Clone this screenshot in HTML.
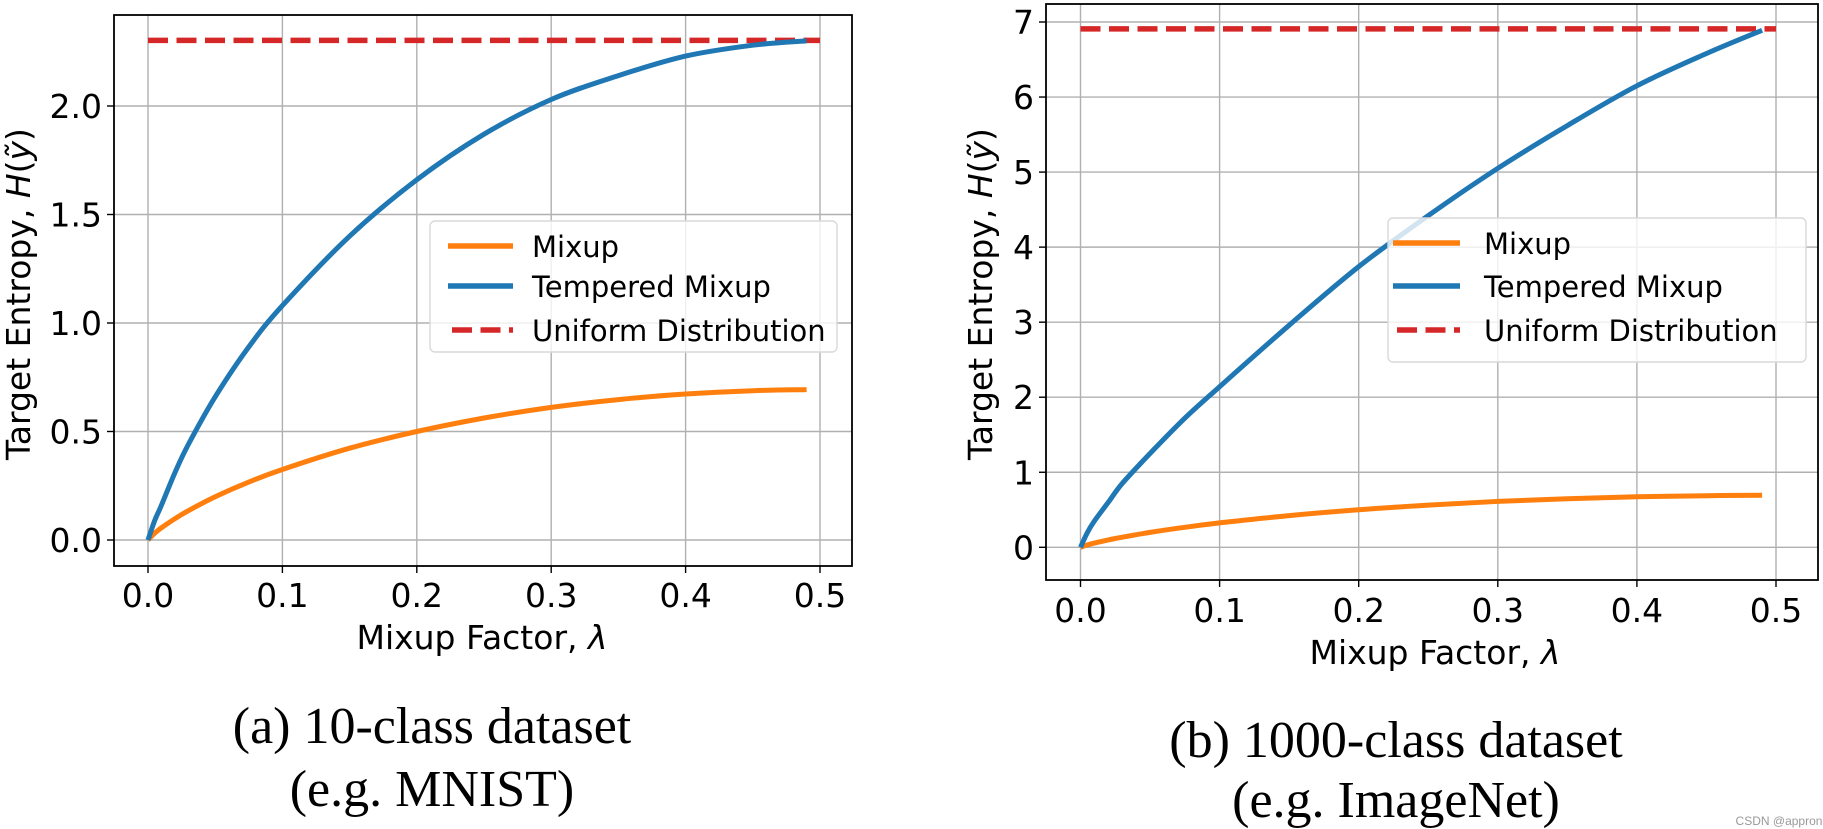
<!DOCTYPE html>
<html><head><meta charset="utf-8">
<style>
html,body{margin:0;padding:0;background:#fff;}
svg{display:block;}
.tk{font-family:"DejaVu Sans","Liberation Sans",sans-serif;font-size:33px;fill:#000;}
.cap{font-family:"Liberation Serif",serif;font-size:52px;fill:#000;}
</style></head>
<body>
<svg id="chart" width="1823" height="829" viewBox="0 0 1823 829" xmlns="http://www.w3.org/2000/svg">
<text class="cap" x="432" y="743" text-anchor="middle">(a) 10-class dataset</text>
<text class="cap" x="432" y="806" text-anchor="middle">(e.g. MNIST)</text>
<text class="cap" x="1396" y="757" text-anchor="middle">(b) 1000-class dataset</text>
<text class="cap" x="1396" y="817" text-anchor="middle">(e.g. ImageNet)</text>
<text x="1779" y="825" text-anchor="middle" font-family="Liberation Sans, sans-serif" font-size="12" fill="#999">CSDN @appron</text>
</svg>
<script>
const lambdas = [0,0.005,0.01,0.02,0.03,0.05,0.075,0.1,0.15,0.2,0.25,0.3,0.35,0.4,0.45,0.49];
const mixupVals = [0,0.0315,0.056,0.098,0.135,0.199,0.267,0.325,0.423,0.5,0.562,0.611,0.647,0.673,0.688,0.693];
const temperedA = [0,0.09,0.16,0.31,0.44,0.66,0.89,1.08,1.40,1.66,1.87,2.03,2.14,2.23,2.28,2.30];
const temperedB = [0,0.2,0.35,0.6,0.85,1.25,1.72,2.14,2.96,3.74,4.42,5.05,5.62,6.15,6.58,6.89];
const uniformA = 2.3026;
const uniformB = 6.9078;
const xTicks = ["0.0","0.1","0.2","0.3","0.4","0.5"];
const yTicksA = ["0.0","0.5","1.0","1.5","2.0"];
const yTicksB = ["0","1","2","3","4","5","6","7"];

const NS="http://www.w3.org/2000/svg";
const svg=document.getElementById('chart');
function mk(tag,attrs,parent){const e=document.createElementNS(NS,tag);for(const k in attrs)e.setAttribute(k,attrs[k]);(parent||svg).appendChild(e);return e;}
function smooth(pts){
  let d='M'+pts[0][0].toFixed(1)+','+pts[0][1].toFixed(1);
  for(let i=0;i<pts.length-1;i++){
    const p0=pts[Math.max(0,i-1)],p1=pts[i],p2=pts[i+1],p3=pts[Math.min(pts.length-1,i+2)];
    const c1=[p1[0]+(p2[0]-p0[0])/6,p1[1]+(p2[1]-p0[1])/6];
    const c2=[p2[0]-(p3[0]-p1[0])/6,p2[1]-(p3[1]-p1[1])/6];
    d+='C'+c1[0].toFixed(1)+','+c1[1].toFixed(1)+' '+c2[0].toFixed(1)+','+c2[1].toFixed(1)+' '+p2[0].toFixed(1)+','+p2[1].toFixed(1);
  }
  return d;
}
function panel(p){
  const g=mk('g',{});
  
  
  const X=v=>p.x0+(v/0.5)*(p.x5-p.x0);
  const Y=v=>p.y0-(v/p.yRef)*(p.y0-p.yR);
  xTicks.forEach(t=>{const v=parseFloat(t);
    const l=mk('line',{x1:X(v),x2:X(v),y1:p.top,y2:p.bot,stroke:'#b0b0b0','stroke-width':1.4},g);
    
    
    const tl=mk('line',{x1:X(v),x2:X(v),y1:p.bot,y2:p.bot+7,stroke:'#000','stroke-width':1.4},g);
    
    
    const tx=mk('text',{x:X(v),y:p.xtY,'text-anchor':'middle',class:'tk'},g);tx.textContent=t;
    
    
  });
  p.yTicks.forEach(t=>{const v=parseFloat(t);
    const l=mk('line',{x1:p.left,x2:p.right,y1:Y(v),y2:Y(v),stroke:'#b0b0b0','stroke-width':1.4},g);
    
    
    const tl=mk('line',{x1:p.left-7,x2:p.left,y1:Y(v),y2:Y(v),stroke:'#000','stroke-width':1.4},g);
    
    
    const tx=mk('text',{x:p.left-12,y:Y(v)+12,'text-anchor':'end',class:'tk'},g);tx.textContent=t;
    
    
  });
  const pts=arr=>lambdas.map((l,i)=>[X(l),Y(arr[i])]);
  const u=mk('line',{x1:X(0),x2:X(0.5),y1:Y(p.uniform),y2:Y(p.uniform),stroke:'#d62728','stroke-width':5.5,'stroke-dasharray':'20,8.5'},g);
  
  
  const m=mk('path',{d:smooth(pts(mixupVals)),fill:'none',stroke:'#ff7f0e','stroke-width':5,'stroke-linejoin':'round'},g);
  
  
  const t=mk('path',{d:smooth(pts(p.tempered)),fill:'none',stroke:'#1f77b4','stroke-width':5,'stroke-linejoin':'round'},g);
  
  
  const f=mk('rect',{x:p.left,y:p.top,width:p.right-p.left,height:p.bot-p.top,fill:'none',stroke:'#000','stroke-width':1.8},g);
  
  
  const xl=mk('text',{x:p.xlX,y:p.xlY,'text-anchor':'middle',class:'tk'},g);
  xl.innerHTML='Mixup Factor, <tspan font-style="italic">λ</tspan>';
  
  
  const yl=mk('text',{x:0,y:0,'text-anchor':'middle',class:'tk',transform:`translate(${p.ylX},${p.ylY}) rotate(-90)`},g);
  yl.innerHTML='Target Entropy, <tspan font-style="italic">H</tspan>(<tspan font-style="italic">ỹ</tspan>)';
  
  
  const L=p.leg;
  const lb=mk('rect',{x:L.x,y:L.y,width:L.w,height:L.h,rx:5,fill:'rgba(255,255,255,0.8)',stroke:'#d9d9d9','stroke-width':1.4},g);
  
  
  const items=[['Mixup','#ff7f0e',null],['Tempered Mixup','#1f77b4',null],['Uniform Distribution','#d62728','20,8.5']];
  items.forEach((it,i)=>{const yy=L.ey[i];
    const a={x1:L.lx1,x2:L.lx2,y1:yy,y2:yy,stroke:it[1],'stroke-width':5.5};
    if(it[2]){a['stroke-dasharray']=it[2];a.x1=L.lx1+4;}
    const ln=mk('line',a,g);
    
    
    const tx=mk('text',{x:L.tx,y:yy+11,class:'tk',style:'font-size:29px'},g);tx.textContent=it[0];
    
    
  });
}
panel({name:'chart-a',left:114,right:852,top:15,bot:566,x0:148,x5:820,y0:540,yR:106,yRef:2.0,
  yTicks:yTicksA,tempered:temperedA,uniform:uniformA,xtY:607,xlX:482,xlY:649,ylX:30,ylY:294,
  leg:{x:430,y:221,w:407,h:131,ey:[246,286,330],lx1:448,lx2:513,tx:532}});
panel({name:'chart-b',left:1046,right:1818,top:4,bot:580,x0:1080.5,x5:1776,y0:547.3,yR:22,yRef:7,
  yTicks:yTicksB,tempered:temperedB,uniform:uniformB,xtY:622,xlX:1435,xlY:664,ylX:992,ylY:294,
  leg:{x:1388,y:218,w:418,h:144,ey:[243,286,330],lx1:1393,lx2:1460,tx:1484}});
</script>
</body></html>
